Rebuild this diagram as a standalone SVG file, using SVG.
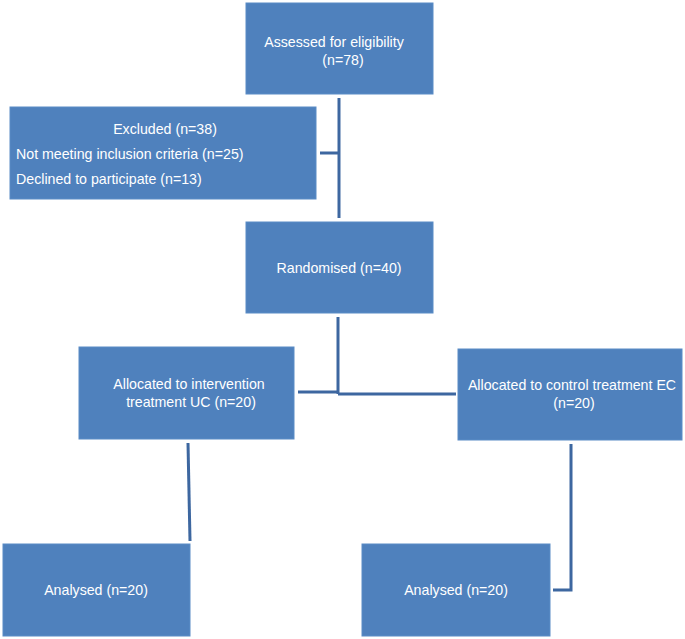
<svg xmlns="http://www.w3.org/2000/svg" width="685" height="639" viewBox="0 0 685 639">
<style>
.box{fill:#4F81BD;stroke:#5a8cc6;stroke-width:1}
.t{font-family:"Liberation Sans",Arial,sans-serif;font-size:14.2px;fill:#ffffff}
.c{text-anchor:middle}
.ln{stroke:#3D67A0;stroke-width:3;fill:none}
</style>
<rect width="685" height="639" fill="#ffffff"/>
<g id="connectors">
<line class="ln" x1="339" y1="98" x2="339" y2="218"/>
<line class="ln" x1="320" y1="153" x2="339" y2="153"/>
<line class="ln" x1="338" y1="317" x2="338" y2="394"/>
<line class="ln" x1="298" y1="392" x2="338" y2="392"/>
<line class="ln" x1="338" y1="394" x2="456" y2="394"/>
<line class="ln" x1="188" y1="443" x2="190" y2="541"/>
<polyline class="ln" points="571,444 571,590 553,590"/>
</g>
<g id="assessed">
<rect class="box" x="246" y="3" width="187" height="91"/>
<text class="t c" x="334" y="47">Assessed for eligibility</text>
<text class="t c" x="343" y="65">(n=78)</text>
</g>
<g id="excluded">
<rect class="box" x="10" y="107" width="306" height="92"/>
<text class="t c" x="165" y="134">Excluded (n=38)</text>
<text class="t" x="16" y="159">Not meeting inclusion criteria (n=25)</text>
<text class="t" x="16" y="184">Declined to participate (n=13)</text>
</g>
<g id="randomised">
<rect class="box" x="246" y="222" width="187" height="91"/>
<text class="t c" x="339" y="273">Randomised (n=40)</text>
</g>
<g id="intervention">
<rect class="box" x="79" y="347" width="215" height="92"/>
<text class="t c" x="189" y="389">Allocated to intervention</text>
<text class="t c" x="191" y="407">treatment UC (n=20)</text>
</g>
<g id="control">
<rect class="box" x="458" y="349" width="224" height="91"/>
<text class="t c" x="572" y="390">Allocated to control treatment EC</text>
<text class="t c" x="574" y="408">(n=20)</text>
</g>
<g id="analysed-left">
<rect class="box" x="3" y="544" width="187" height="92"/>
<text class="t c" x="96" y="595">Analysed (n=20)</text>
</g>
<g id="analysed-right">
<rect class="box" x="362" y="544" width="188" height="92"/>
<text class="t c" x="456" y="595">Analysed (n=20)</text>
</g>
</svg>
